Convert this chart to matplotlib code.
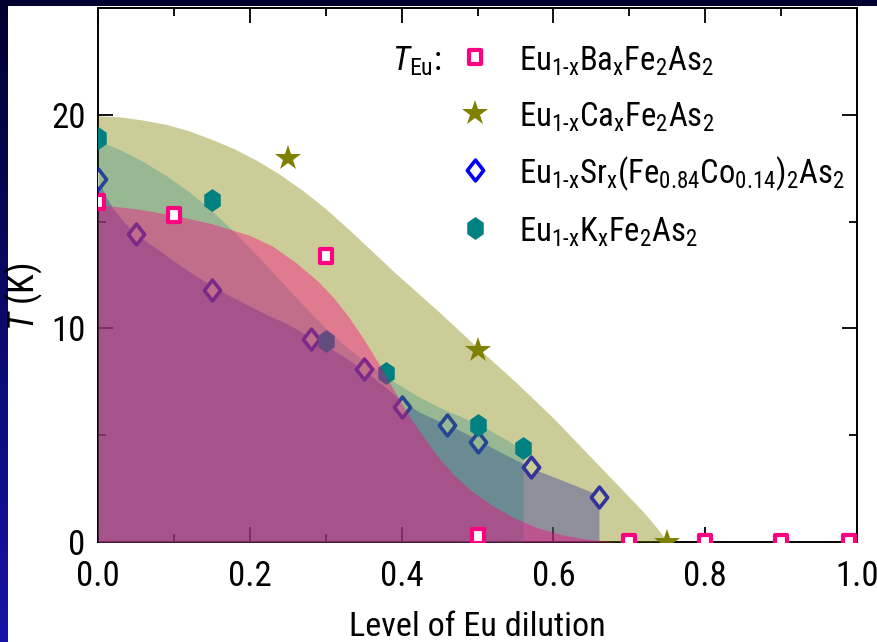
import numpy as np
import matplotlib
matplotlib.use("Agg")
import matplotlib.pyplot as plt
from matplotlib import font_manager
from matplotlib.path import Path
from matplotlib.patches import Rectangle
from matplotlib.colors import LinearSegmentedColormap
from matplotlib.ticker import MultipleLocator, FormatStrFormatter

# ---------------- data ----------------
# Eu(1-x)Ba(x)Fe2As2
ba_x = [0.0, 0.1, 0.3, 0.5, 0.7, 0.8, 0.9, 0.99]
ba_y = [15.9, 15.3, 13.4, 0.3, 0.0, 0.0, 0.0, 0.0]
# Eu(1-x)Ca(x)Fe2As2
ca_x = [0.25, 0.5, 0.75]
ca_y = [18.0, 9.0, 0.0]
# Eu(1-x)Sr(x)(Fe0.84Co0.14)2As2
sr_x = [0.0, 0.05, 0.15, 0.28, 0.35, 0.40, 0.46, 0.50, 0.57, 0.66]
sr_y = [17.0, 14.4, 11.8, 9.5, 8.1, 6.3, 5.5, 4.7, 3.5, 2.1]
# Eu(1-x)K(x)Fe2As2
k_x = [0.0, 0.15, 0.30, 0.38, 0.50, 0.56]
k_y = [18.9, 16.0, 9.4, 7.9, 5.5, 4.4]

# shaded phase boundaries (guides to the eye)
ca_edge_x = [0.0, 0.03, 0.06, 0.09, 0.12, 0.15, 0.18, 0.21, 0.24, 0.27, 0.30, 0.33, 0.36,
             0.39, 0.42, 0.45, 0.50, 0.55, 0.60, 0.65, 0.70, 0.72, 0.74, 0.75]
ca_edge_y = [19.95, 19.9, 19.75, 19.55, 19.25, 18.85, 18.4, 17.85, 17.2, 16.45, 15.6, 14.65, 13.65,
             12.65, 11.7, 10.75, 9.1, 7.5, 5.8, 3.95, 2.1, 1.35, 0.5, 0.0]
k_edge_x = [0.0, 0.03, 0.06, 0.09, 0.12, 0.15, 0.18, 0.21, 0.24, 0.27, 0.30, 0.33, 0.36, 0.39,
            0.42, 0.45, 0.48, 0.51, 0.54, 0.56, 0.56]
k_edge_y = [18.8, 18.35, 17.8, 17.15, 16.4, 15.5, 14.5, 13.4, 12.25, 11.1, 10.0, 9.05, 8.25, 7.5,
            6.85, 6.3, 5.85, 5.35, 4.75, 4.3, 0.0]
sr_edge_x = [0.0, 0.01, 0.02, 0.035, 0.05, 0.075, 0.10, 0.125, 0.15, 0.175, 0.20, 0.225, 0.25,
             0.275, 0.30, 0.325, 0.35, 0.375, 0.40, 0.425, 0.45, 0.475, 0.50, 0.525, 0.55,
             0.575, 0.60, 0.625, 0.66, 0.66]
sr_edge_y = [17.0, 16.2, 15.6, 14.95, 14.4, 13.8, 13.15, 12.55, 12.0, 11.5, 11.05, 10.6, 10.2,
             9.7, 9.2, 8.65, 8.05, 7.35, 6.6, 6.05, 5.65, 5.25, 4.8, 4.3, 3.85,
             3.4, 3.05, 2.7, 2.2, 0.0]
ba_edge_x = [0.0, 0.05, 0.10, 0.15, 0.20, 0.23, 0.26, 0.29, 0.31, 0.33, 0.35, 0.37, 0.39, 0.41,
             0.43, 0.45, 0.47, 0.49, 0.52, 0.55, 0.58, 0.61, 0.64, 0.68]
ba_edge_y = [15.8, 15.6, 15.3, 14.9, 14.35, 13.85, 13.1, 12.2, 11.45, 10.55, 9.5, 8.35, 7.1, 5.9,
             4.85, 3.9, 3.1, 2.45, 1.7, 1.1, 0.65, 0.35, 0.15, 0.0]

labels = [
    r'Eu$_{\mathrm{1}\text{-}\mathrm{x}}$Ba$_{\mathrm{x}}$Fe$_{\mathrm{2}}$As$_{\mathrm{2}}$',
    r'Eu$_{\mathrm{1}\text{-}\mathrm{x}}$Ca$_{\mathrm{x}}$Fe$_{\mathrm{2}}$As$_{\mathrm{2}}$',
    r'Eu$_{\mathrm{1}\text{-}\mathrm{x}}$Sr$_{\mathrm{x}}$(Fe$_{\mathrm{0.84}}$Co$_{\mathrm{0.14}}$)$_{\mathrm{2}}$As$_{\mathrm{2}}$',
    r'Eu$_{\mathrm{1}\text{-}\mathrm{x}}$K$_{\mathrm{x}}$Fe$_{\mathrm{2}}$As$_{\mathrm{2}}$',
]

# ---------------- fonts: a narrow sans serif ----------------
entries = font_manager.fontManager.ttflist
names = {f.name for f in entries}
narrow = [n for n in ('Liberation Sans Narrow', 'Arial Narrow', 'Roboto Condensed')
          if n in names]
cond_dejavu = any(f.name == 'DejaVu Sans' and str(f.stretch) == 'condensed' for f in entries)
if narrow:
    FAMILY, STRETCH = narrow[0], 'normal'
elif cond_dejavu:
    FAMILY, STRETCH = 'DejaVu Sans', 'condensed'
else:
    FAMILY, STRETCH = 'Liberation Sans', 'normal'

plt.rcParams['font.family'] = [FAMILY, 'DejaVu Sans']
plt.rcParams['font.stretch'] = STRETCH
plt.rcParams['mathtext.fontset'] = 'custom'
plt.rcParams['mathtext.rm'] = f'{FAMILY}:stretch={STRETCH}'
plt.rcParams['mathtext.it'] = f'{FAMILY}:italic:stretch={STRETCH}'
plt.rcParams['mathtext.bf'] = f'{FAMILY}:bold:stretch={STRETCH}'

PINK = '#ff0080'
OLIVE = '#808000'
BLUE = '#0000ff'
TEAL = '#008080'

# marker shapes
diamond = Path([(0, 1), (0.78, 0), (0, -1), (-0.78, 0), (0, 1)],
               [Path.MOVETO, Path.LINETO, Path.LINETO, Path.LINETO, Path.CLOSEPOLY])
hexagon = Path([(0, 1), (0.72, 0.5), (0.72, -0.5), (0, -1), (-0.72, -0.5), (-0.72, 0.5), (0, 1)],
               [Path.MOVETO] + [Path.LINETO] * 5 + [Path.CLOSEPOLY])
square = Path([(-0.8, -1), (0.8, -1), (0.8, 1), (-0.8, 1), (-0.8, -1)],
              [Path.MOVETO, Path.LINETO, Path.LINETO, Path.LINETO, Path.CLOSEPOLY])

W, H = 877, 642
fig = plt.figure(figsize=(W / 100, H / 100), dpi=100)
renderer = fig.canvas.get_renderer()


def fit_size(text, target_px, max_pt):
    """Scale a text's font size so that it spans target_px horizontally."""
    text.set_fontsize(max_pt)
    w = text.get_window_extent(renderer).width
    size = min(max_pt, max_pt * target_px / w)
    text.set_fontsize(size)
    return size


# frame: dark-blue gradient with a white page on top
bg = fig.add_axes([0, 0, 1, 1], zorder=-10)
bg.set_axis_off()
grad = np.linspace(0, 1, 256)[:, None]
cmap = LinearSegmentedColormap.from_list('frame', ['#00002e', '#1414aa'])
bg.imshow(grad, cmap=cmap, aspect='auto', extent=[0, 1, 0, 1], origin='upper')
bg.add_patch(Rectangle((8 / W, 0), 1, 1 - 6 / H, facecolor='white', edgecolor='none',
                       transform=bg.transAxes))
bg.set_xlim(0, 1)
bg.set_ylim(0, 1)

ax = fig.add_axes([98 / W, 1 - 542 / H, 759 / W, 534 / H])
ax.set_xlim(0, 1)
ax.set_ylim(0, 25)

# layers: Sr shade, Sr markers, Ca shade, K shade, K markers, Ba shade, Ba markers, Ca markers
ax.fill_between(sr_edge_x, sr_edge_y, 0, color=BLUE, alpha=0.4, lw=0, zorder=3)
ax.plot(sr_x, sr_y, ls='none', marker=diamond, ms=15, mew=2.6, mec=BLUE, mfc='white', zorder=4)
ax.fill_between(ca_edge_x, ca_edge_y, 0, color=OLIVE, alpha=0.4, lw=0, zorder=5)
ax.fill_between(k_edge_x, k_edge_y, 0, color=TEAL, alpha=0.26, lw=0, zorder=6)
ax.plot(k_x, k_y, ls='none', marker=hexagon, ms=16.5, mew=0, mfc=TEAL, zorder=7)
ax.fill_between(ba_edge_x, ba_edge_y, 0, color=PINK, alpha=0.4, lw=0, zorder=8)
ax.plot(ba_x, ba_y, ls='none', marker=square, ms=10, mew=3, mec=PINK, mfc='white', zorder=9)
ax.plot(ca_x, ca_y, ls='none', marker='*', ms=19, mew=0, mfc=OLIVE, zorder=10)

# legend built by hand
rows = [57, 113, 170, 228]
handles = [
    dict(marker=square, ms=10, mew=3, mec=PINK, mfc='white'),
    dict(marker='*', ms=19, mew=0, mfc=OLIVE),
    dict(marker=diamond, ms=15, mew=2.6, mec=BLUE, mfc='white'),
    dict(marker=hexagon, ms=16.5, mew=0, mfc=TEAL),
]
texts = []
for ry, h, lab in zip(rows, handles, labels):
    ax.plot([(475 - 98) / 759], [(542 - ry) / 534], ls='none', transform=ax.transAxes,
            clip_on=False, zorder=12, **h)
    texts.append(fig.text(519 / W, 1 - (ry + 13.5) / H, lab, ha='left', va='baseline'))
leg_size = fit_size(texts[2], 326, 26)
for t in texts:
    t.set_fontsize(leg_size)
teu = fig.text(392 / W, 1 - (57 + 13.5) / H, r'$T_{\mathrm{Eu}}$:', fontsize=leg_size + 1,
               ha='left', va='baseline')

# axes styling
for s in ax.spines.values():
    s.set_linewidth(1.4)
ax.xaxis.set_major_locator(MultipleLocator(0.2))
ax.xaxis.set_minor_locator(MultipleLocator(0.1))
ax.yaxis.set_major_locator(MultipleLocator(10))
ax.yaxis.set_minor_locator(MultipleLocator(5))
ax.xaxis.set_major_formatter(FormatStrFormatter('%.1f'))
ax.tick_params(which='both', direction='in', top=True, right=True, width=1.3)
ax.tick_params(which='major', length=11)
ax.tick_params(which='minor', length=5.5)
ax.tick_params(axis='x', pad=13, labelsize=25)
ax.tick_params(axis='y', pad=9, labelsize=25)

xl = ax.set_xlabel('Level of Eu dilution', va='baseline')
fit_size(xl, 256, 26)
ax.xaxis.set_label_coords(0.5, (542 - 636) / 534)
yl = ax.set_ylabel(r'$T$ (K)', fontsize=26, va='center')
ax.yaxis.set_label_coords((24 - 98) / 759, (542 - 297) / 534)

fig.savefig('out.png', dpi=100)
